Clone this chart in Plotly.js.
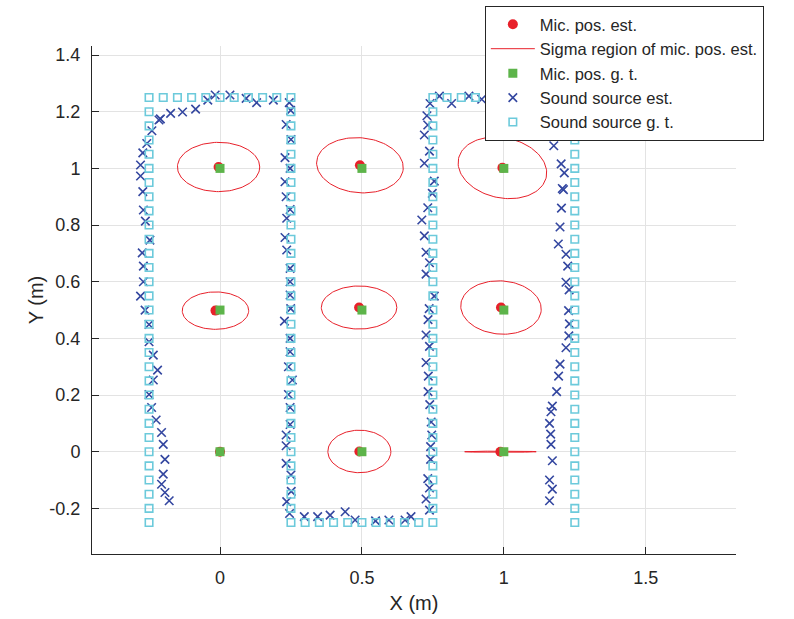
<!DOCTYPE html>
<html>
<head>
<meta charset="utf-8">
<script src="https://cdn.plot.ly/plotly-3.0.1.min.js"></script>
<style>html,body{margin:0;padding:0;background:#fff;}#chart{width:794px;height:619px;}</style>
</head>
<body>
<div id="chart"></div>
<script>
// Microphone ground truth
const micGtX = [0, 0, 0, 0.5, 0.5, 0.5, 1, 1, 1];
const micGtY = [0, 0.5, 1, 0, 0.5, 1, 0, 0.5, 1];
// Microphone estimates
const micEstX = [0, -0.016, -0.005, 0.491, 0.49, 0.493, 0.988, 0.99, 0.995];
const micEstY = [0, 0.498, 1.005, 0.001, 0.509, 1.011, 0.0, 0.509, 1.002];
// Sigma region (semi-axes, rotation in degrees) per microphone estimate
const sigmaA = [0, 0.117, 0.145, 0.111, 0.133, 0.153, 0.126, 0.142, 0.158];
const sigmaB = [0, 0.066, 0.087, 0.075, 0.076, 0.097, 0.002, 0.094, 0.106];
const sigmaAng = [0, 0, 0, 0, 0, -5, 0, -4, -12];

// Sound source ground truth: columns and rows
const gtColumnX = [-0.25, 0.25, 0.75, 1.25];
const gtColumnY = [-0.25,-0.2,-0.15,-0.1,-0.05,0,0.05,0.1,0.15,0.2,0.25,0.3,0.35,0.4,0.45,0.5,0.55,0.6,0.65,0.7,0.75,0.8,0.85,0.9,0.95,1,1.05,1.1,1.15,1.2,1.25];
const gtTopRow1X = [-0.2,-0.15,-0.1,-0.05,0,0.05,0.1,0.15,0.2];
const gtBottomRowX = [0.3,0.35,0.4,0.45,0.5,0.55,0.6,0.65,0.7];
const gtTopRow2X = [0.8,0.85,0.9,0.95,1,1.05,1.1,1.15,1.2];
const gtTopY = 1.25, gtBottomY = -0.25;

// Sound source estimates
const srcEstX = [
 -0.179,-0.194,-0.206,-0.200,-0.194,-0.200,-0.206,-0.225,-0.241,-0.250,-0.235,-0.220,-0.235,-0.250,-0.250,-0.264,-0.280,-0.270,-0.270,-0.274,-0.247,-0.263,-0.270,-0.272,-0.280,-0.280,-0.272,-0.258,-0.240,-0.215,-0.210,-0.174,-0.132,-0.086,-0.043,-0.017,0.035,0.092,0.129,0.188,
 0.244,0.249,0.233,0.250,0.229,0.247,0.229,0.233,0.247,0.235,0.229,0.235,0.247,0.247,0.247,0.249,0.227,0.247,0.247,0.241,0.255,0.241,0.247,0.247,0.233,0.233,0.233,0.250,0.251,0.235,0.245,
 0.297,0.344,0.388,0.441,0.476,0.548,0.595,0.652,0.673,
 0.738,0.726,0.738,0.732,0.742,0.742,0.746,0.744,0.739,0.733,0.734,0.726,0.738,0.726,0.733,0.737,0.755,0.726,0.738,0.726,0.720,0.711,0.732,0.748,0.755,0.720,0.738,0.720,0.732,0.729,0.740,0.773,0.816,0.877,0.922,
 1.176,1.176,1.202,1.213,1.206,1.210,1.203,1.198,1.192,1.219,1.225,1.219,1.230,1.228,1.231,1.229,1.219,1.198,1.193,1.186,1.171,1.166,1.161,1.165,1.166,1.171,1.161,1.171,1.161
];
const srcEstY = [
 -0.173,-0.144,-0.115,-0.079,-0.027,0.026,0.068,0.112,0.156,0.202,0.253,0.288,0.341,0.388,0.449,0.500,0.549,0.600,0.655,0.702,0.747,0.814,0.853,0.918,0.973,1.012,1.055,1.088,1.133,1.171,1.175,1.194,1.199,1.209,1.241,1.259,1.259,1.247,1.232,1.241,
 1.232,1.205,1.155,1.102,1.038,1.000,0.953,0.900,0.855,0.824,0.756,0.712,0.647,0.600,0.553,0.505,0.461,0.400,0.353,0.300,0.253,0.202,0.156,0.096,0.059,0.021,-0.041,-0.082,-0.140,-0.176,-0.218,
 -0.229,-0.229,-0.224,-0.212,-0.241,-0.244,-0.241,-0.241,-0.229,
 -0.206,-0.167,-0.128,-0.095,-0.027,0.018,0.059,0.105,0.166,0.212,0.267,0.315,0.372,0.412,0.466,0.505,0.549,0.627,0.667,0.704,0.762,0.818,0.861,0.912,0.955,1.018,1.061,1.118,1.153,1.186,1.229,1.255,1.229,1.255,1.244,
 1.122,1.080,1.016,0.984,0.929,0.925,0.860,0.793,0.733,0.697,0.655,0.598,0.571,0.498,0.451,0.409,0.367,0.309,0.267,0.212,0.161,0.141,0.100,0.062,0.026,-0.032,-0.100,-0.132,-0.173
];

const xTickVals = [0, 0.5, 1, 1.5];
const xTickText = ['0', '0.5', '1', '1.5'];
const yTickVals = [-0.2, 0, 0.2, 0.4, 0.6, 0.8, 1, 1.2, 1.4];
const yTickText = ['-0.2', '0', '0.2', '0.4', '0.6', '0.8', '1', '1.2', '1.4'];

// Build ground-truth point lists from columns and rows
const gtX = [], gtY = [];
gtColumnX.forEach(cx => gtColumnY.forEach(cy => { gtX.push(cx); gtY.push(cy); }));
gtTopRow1X.forEach(x => { gtX.push(x); gtY.push(gtTopY); });
gtBottomRowX.forEach(x => { gtX.push(x); gtY.push(gtBottomY); });
gtTopRow2X.forEach(x => { gtX.push(x); gtY.push(gtTopY); });

// Build ellipse outlines
const ellX = [], ellY = [];
for (let i = 0; i < micEstX.length; i++) {
  if (sigmaA[i] <= 0) continue;
  const th = sigmaAng[i] * Math.PI / 180;
  for (let k = 0; k <= 120; k++) {
    const t = 2 * Math.PI * k / 120;
    const ex = sigmaA[i] * Math.cos(t), ey = sigmaB[i] * Math.sin(t);
    ellX.push(micEstX[i] + ex * Math.cos(th) - ey * Math.sin(th));
    ellY.push(micEstY[i] + ex * Math.sin(th) + ey * Math.cos(th));
  }
  ellX.push(null); ellY.push(null);
}

const red = '#e8202a', green = '#5db44a', blue = '#3447a0', cyan = '#6ccadb';
const fontFam = '"Liberation Sans", Arial, Helvetica, sans-serif';

const traces = [
  {x: micEstX, y: micEstY, type: 'scatter', mode: 'markers', name: 'Mic. pos. est.',
   marker: {symbol: 'circle', size: 10, color: red, line: {width: 0}}},
  {x: ellX, y: ellY, type: 'scatter', mode: 'lines', name: 'Sigma region of mic. pos. est.',
   line: {color: red, width: 1}, connectgaps: false},
  {x: micGtX, y: micGtY, type: 'scatter', mode: 'markers', name: 'Mic. pos. g. t.',
   marker: {symbol: 'square', size: 9, color: green, line: {width: 0}}},
  {x: srcEstX, y: srcEstY, type: 'scatter', mode: 'markers', name: 'Sound source est.',
   marker: {symbol: 'x-thin-open', size: 8.5, color: blue, line: {color: blue, width: 1.6}}},
  {x: gtX, y: gtY, type: 'scatter', mode: 'markers', name: 'Sound source g. t.',
   marker: {symbol: 'square-open', size: 7.5, color: cyan, line: {color: cyan, width: 1.6}}}
];

const layout = {
  width: 794, height: 619,
  margin: {l: 92, r: 58, t: 46, b: 65, autoexpand: false},
  paper_bgcolor: '#fff', plot_bgcolor: '#fff',
  font: {family: fontFam, size: 18, color: '#262626'},
  showlegend: true,
  legend: {x: 0.61, y: 1.0787, xanchor: 'left', yanchor: 'top', bgcolor: '#fff',
           bordercolor: '#262626', borderwidth: 1, font: {size: 16.5, color: '#262626'},
           itemwidth: 44, tracegroupgap: 0},
  xaxis: {range: [-0.451, 1.818], tickvals: xTickVals, ticktext: xTickText,
          ticks: 'inside', ticklen: 7, tickwidth: 1, tickcolor: '#262626',
          showline: true, linecolor: '#262626', linewidth: 1, mirror: false,
          showgrid: true, gridcolor: '#e3e3e3', gridwidth: 1, zeroline: false,
          ticklabelstandoff: 7, tickfont: {size: 18}, automargin: false,
          title: {text: 'X (m)', font: {size: 20, color: '#262626'}, standoff: 9}},
  yaxis: {range: [-0.361, 1.432], tickvals: yTickVals, ticktext: yTickText,
          ticks: 'inside', ticklen: 7, tickwidth: 1, tickcolor: '#262626',
          showline: true, linecolor: '#262626', linewidth: 1, mirror: false,
          showgrid: true, gridcolor: '#e3e3e3', gridwidth: 1, zeroline: false,
          ticklabelstandoff: 7, tickfont: {size: 18}, automargin: false,
          title: {text: 'Y (m)', font: {size: 20, color: '#262626'}, standoff: 0}}
};

Plotly.newPlot('chart', traces, layout, {displayModeBar: false, responsive: false});
</script>
</body>
</html>
